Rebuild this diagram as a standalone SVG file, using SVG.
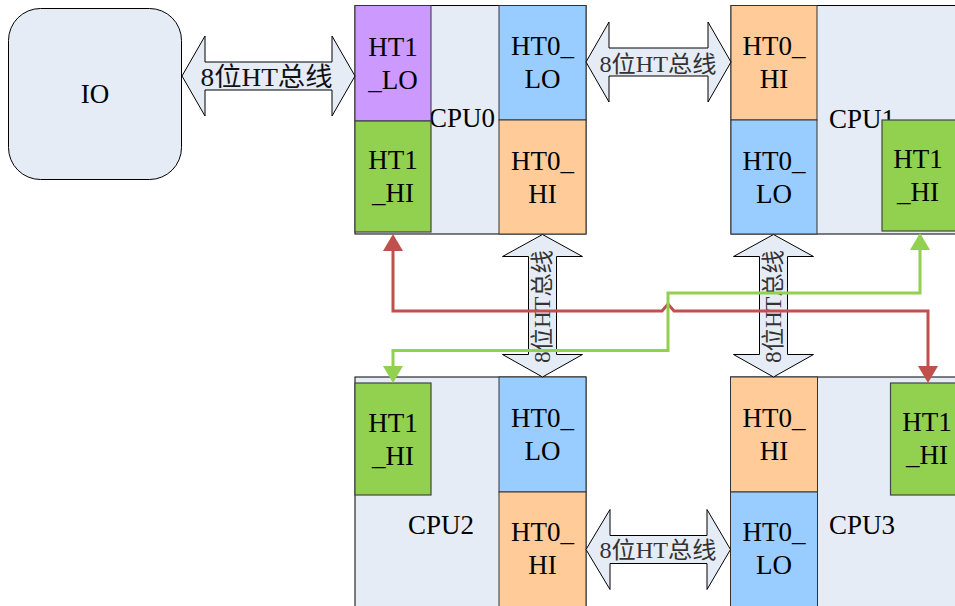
<svg xmlns="http://www.w3.org/2000/svg" width="955" height="606" viewBox="0 0 955 606" font-family="'Liberation Serif', 'Noto Sans CJK SC', serif">
<style>
.cpu{fill:#e6ecf5;stroke:#000;stroke-width:1}
.io{fill:#e6ecf5;stroke:#000;stroke-width:1}
.lo1{fill:#cc99ff;stroke:#333;stroke-width:1}
.hi1{fill:#92d050;stroke:#444;stroke-width:1.2}
.lo0{fill:#99ccff;stroke:#333;stroke-width:1}
.hi0{fill:#ffcc99;stroke:#333;stroke-width:1}
.bus{fill:#e6ecf5;stroke:#000;stroke-width:1}
.lbl{font-family:'Liberation Serif',serif;font-size:27px;text-anchor:middle;fill:#000}
.bl{font-family:'Liberation Serif','Noto Sans CJK SC',serif;font-size:23px;text-anchor:middle;fill:#333}
.bl1{font-family:'Liberation Serif','Noto Sans CJK SC',serif;font-size:26px;text-anchor:middle;fill:#111}
.red{fill:none;stroke:#c0504d;stroke-width:3}
.grn{fill:none;stroke:#92d050;stroke-width:3}
</style>
<defs>
<marker id="ar" viewBox="0 0 17 20" refX="0" refY="10" markerWidth="17" markerHeight="20" markerUnits="userSpaceOnUse" orient="auto-start-reverse"><path d="M0,0 L17,10 L0,20 z" fill="#c0504d"/></marker>
<marker id="ag" viewBox="0 0 17 20" refX="0" refY="10" markerWidth="17" markerHeight="20" markerUnits="userSpaceOnUse" orient="auto-start-reverse"><path d="M0,0 L17,10 L0,20 z" fill="#92d050"/></marker>
</defs>

<g id="IO">
<rect class="io" x="8.5" y="8.5" width="173" height="171" rx="32" ry="32"/>
<text class="lbl" x="95" y="103">IO</text>
</g>

<g id="CPU0">
<rect class="cpu" x="355" y="5.5" width="231" height="228.5"/>
<text class="lbl" x="462" y="127">CPU0</text>
<rect class="lo1" x="355" y="5.5" width="76" height="115.5"/>
<text class="lbl" x="393" y="55.5">HT1</text>
<text class="lbl" x="393" y="88.5">_LO</text>
<rect class="hi1" x="355" y="121" width="76" height="111"/>
<text class="lbl" x="393" y="169">HT1</text>
<text class="lbl" x="393" y="202">_HI</text>
<rect class="lo0" x="499" y="5.5" width="87" height="114.5"/>
<text class="lbl" x="542.5" y="55">HT0_</text>
<text class="lbl" x="542.5" y="88">LO</text>
<rect class="hi0" x="499" y="120" width="87" height="114"/>
<text class="lbl" x="542.5" y="169.5">HT0_</text>
<text class="lbl" x="542.5" y="202.5">HI</text>
</g>

<g id="CPU1">
<rect class="cpu" x="731" y="5.5" width="260" height="228.5"/>
<text class="lbl" x="862" y="128">CPU1</text>
<rect class="hi0" x="731" y="5.5" width="86" height="114.5"/>
<text class="lbl" x="774" y="55">HT0_</text>
<text class="lbl" x="774" y="88">HI</text>
<rect class="lo0" x="731" y="120" width="86" height="114"/>
<text class="lbl" x="774" y="169.5">HT0_</text>
<text class="lbl" x="774" y="202.5">LO</text>
<rect class="hi1" x="882" y="120" width="74" height="111"/>
<text class="lbl" x="918" y="168">HT1</text>
<text class="lbl" x="918" y="201">_HI</text>
</g>

<g id="CPU2">
<rect class="cpu" x="355" y="377" width="231" height="240"/>
<text class="lbl" x="441" y="534">CPU2</text>
<rect class="hi1" x="355" y="383" width="76" height="112"/>
<text class="lbl" x="393" y="431.5">HT1</text>
<text class="lbl" x="393" y="464.5">_HI</text>
<rect class="lo0" x="499" y="377" width="87" height="115"/>
<text class="lbl" x="542.5" y="427">HT0_</text>
<text class="lbl" x="542.5" y="460">LO</text>
<rect class="hi0" x="499" y="492" width="87" height="125"/>
<text class="lbl" x="542.5" y="541">HT0_</text>
<text class="lbl" x="542.5" y="574">HI</text>
</g>

<g id="CPU3">
<rect class="cpu" x="730.5" y="377" width="260" height="240"/>
<text class="lbl" x="862" y="534">CPU3</text>
<rect class="hi0" x="730.5" y="377" width="87" height="115"/>
<text class="lbl" x="774" y="427">HT0_</text>
<text class="lbl" x="774" y="460">HI</text>
<rect class="lo0" x="730.5" y="492" width="87" height="125"/>
<text class="lbl" x="774" y="541">HT0_</text>
<text class="lbl" x="774" y="574">LO</text>
<rect class="hi1" x="890.5" y="383" width="80" height="112"/>
<text class="lbl" x="927" y="431">HT1</text>
<text class="lbl" x="927" y="464">_HI</text>
</g>

<g id="connectors">
<g id="bus-io-cpu0">
<polygon class="bus" points="182,76 205,36 205,62 332,62 332,36 355,76 332,116 332,90 205,90 205,116"/>
<text class="bl1" x="266.5" y="86" textLength="132" lengthAdjust="spacingAndGlyphs">8位HT总线</text>
</g>
<g id="bus-cpu0-cpu1">
<polygon class="bus" points="586,62 609,22 609,48 708,48 708,22 731,62 708,102 708,76 609,76 609,102"/>
<text class="bl" x="658" y="71.5" textLength="117" lengthAdjust="spacingAndGlyphs">8位HT总线</text>
</g>
<g id="bus-cpu2-cpu3">
<polygon class="bus" points="586,549.5 610,509.5 610,535.5 707,535.5 707,509.5 730.5,549.5 707,589.5 707,563.5 610,563.5 610,589.5"/>
<text class="bl" x="658" y="557.5" textLength="117" lengthAdjust="spacingAndGlyphs">8位HT总线</text>
</g>
<g id="bus-cpu0-cpu2">
<polygon class="bus" points="542.5,234.5 582.5,256.5 556.5,256.5 556.5,354.5 582.5,354.5 542.5,377 502.5,354.5 528.5,354.5 528.5,256.5 502.5,256.5"/>
<text class="bl" transform="translate(542,306.5) rotate(-90)" x="0" y="8" textLength="113" lengthAdjust="spacingAndGlyphs">8位HT总线</text>
</g>
<g id="bus-cpu1-cpu3">
<polygon class="bus" points="773.5,234.5 813.5,256.5 787.5,256.5 787.5,354.5 813.5,354.5 773.5,377 733.5,354.5 759.5,354.5 759.5,256.5 733.5,256.5"/>
<text class="bl" transform="translate(773,306.5) rotate(-90)" x="0" y="8" textLength="113" lengthAdjust="spacingAndGlyphs">8位HT总线</text>
</g>
<path id="link-red" class="red" d="M393,251 V311 H662 L668,304 L674,311 H928 V366" marker-start="url(#ar)" marker-end="url(#ar)"/>
<path id="link-green" class="grn" d="M920,250 V293 H668 V350.5 H393 V366" marker-start="url(#ag)" marker-end="url(#ag)"/>
</g>
</svg>
